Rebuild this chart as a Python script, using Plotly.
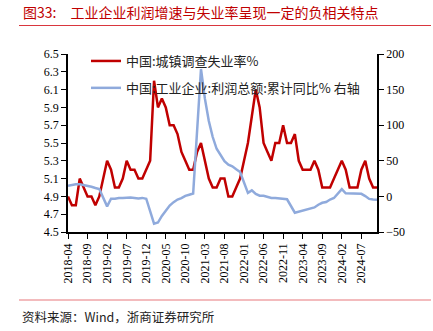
import plotly.graph_objects as go

# ---- data ----
months = []
y, m = 2018, 4
while (y, m) <= (2024, 11):
    months.append(f"{y}-{m:02d}")
    m += 1
    if m > 12:
        y, m = y + 1, 1

unemployment = [
    4.9, 4.8, 4.8, 5.1, 5.0, 4.9, 4.9, 4.8, 4.9,
    5.1, 5.3, 5.2, 5.0, 5.0, 5.1, 5.3, 5.2, 5.2, 5.1, 5.1, 5.2,
    5.3, 6.2, 5.9, 6.0, 5.9, 5.7, 5.7, 5.6, 5.4, 5.3, 5.2, 5.2,
    5.4, 5.5, 5.3, 5.1, 5.0, 5.0, 5.1, 5.1, 4.9, 4.9, 5.0, 5.1,
    5.3, 5.5, 5.8, 6.1, 5.9, 5.5, 5.4, 5.3, 5.5, 5.5, 5.7, 5.5,
    5.5, 5.6, 5.3, 5.2, 5.2, 5.2, 5.3, 5.2, 5.0, 5.0, 5.0, 5.1,
    5.2, 5.3, 5.2, 5.0, 5.0, 5.0, 5.2, 5.3, 5.1, 5.0, 5.0,
]

profit_yoy = [
    15.0, 16.5, 17.2, 17.1, 16.2, 14.7, 13.6, 11.8, 10.3,
    None, -14.0, -3.3, -3.4, -2.3, -2.4, -1.7, -1.7, -2.1, -2.9, -2.1, -3.3,
    None, -38.3, -36.7, -27.4, -19.3, -12.8, -8.1, -4.4, -2.4, 0.7, 2.4, 4.1,
    None, 178.9, 137.3, 106.0, 83.4, 66.9, 57.3, 49.5, 44.7, 42.2, 38.0, 34.3,
    None, 5.0, 8.5, 3.5, 1.0, 1.0, -1.1, -2.1, -2.3, -3.0, -3.6, -4.0,
    None, -22.9, -21.4, -20.6, -18.8, -16.8, -15.5, -11.7, -9.0, -7.8, -4.4, -2.3,
    None, 10.2, 4.3, 4.3, 3.4, 3.5, 3.6, 0.5, -3.5, -4.3, -4.7,
]

tick_labels = months[::5]
left_ticks = [4.5, 4.7, 4.9, 5.1, 5.3, 5.5, 5.7, 5.9, 6.1, 6.3, 6.5]
right_ticks = [-50, 0, 50, 100, 150, 200]

name_unemp = "中国:城镇调查失业率%"
name_profit = "中国:工业企业:利润总额:累计同比% 右轴"
title_text = "图33:　工业企业利润增速与失业率呈现一定的负相关特点"
source_text = "资料来源：Wind，浙商证券研究所"

# ---- layout geometry (px) ----
W, H = 433, 331
L, R, T, B = 68, 377, 54, 232

def px_x(p):
    return (p - L) / (R - L)

def px_y(p):
    return (B - p) / (B - T)

serif = "Liberation Serif, Times New Roman, serif"
cjk = "Noto Sans CJK SC, sans-serif"

fig = go.Figure()
fig.add_trace(go.Scatter(
    x=months, y=unemployment, name=name_unemp, mode="lines",
    line=dict(color="#C00000", width=2.5), legendgroup="a",
))
fig.add_trace(go.Scatter(
    x=months, y=profit_yoy, name=name_profit, mode="lines", yaxis="y2",
    line=dict(color="#8FAADC", width=2.5), connectgaps=True, legendgroup="b",
))

fig.update_layout(
    width=W, height=H,
    margin=dict(l=L, r=W - R, t=T, b=H - B, pad=0),
    paper_bgcolor="white", plot_bgcolor="white",
    showlegend=True,
    legend=dict(
        x=px_x(86), y=px_y(46), xanchor="left", yanchor="top",
        bgcolor="rgba(0,0,0,0)", font=dict(family=cjk, size=13, color="#222"),
        tracegroupgap=7, itemwidth=30,
    ),
    xaxis=dict(
        type="category", range=[0, len(months) - 1],
        tickmode="array", tickvals=tick_labels, ticktext=tick_labels,
        tickangle=-90, ticks="outside", ticklen=5, tickcolor="black",
        showline=True, linecolor="black", linewidth=1.5,
        showgrid=False, zeroline=False,
        tickfont=dict(family=serif, size=12, color="black"),
    ),
    yaxis=dict(
        range=[4.5, 6.5], tickmode="array", tickvals=left_ticks,
        tickformat=".1f", ticks="outside", ticklen=5, tickcolor="black",
        showline=True, linecolor="black", linewidth=1.5,
        showgrid=False, zeroline=False,
        tickfont=dict(family=serif, size=12, color="black"),
    ),
    yaxis2=dict(
        range=[-50, 200], tickmode="array", tickvals=right_ticks,
        overlaying="y", side="right", ticks="outside", ticklen=5, tickcolor="black",
        showline=True, linecolor="black", linewidth=1.5,
        showgrid=False, zeroline=False,
        tickfont=dict(family=serif, size=12, color="black"),
    ),
    shapes=[
        dict(type="line", xref="paper", yref="paper",
             x0=px_x(19), x1=px_x(431), y0=px_y(25.5), y1=px_y(25.5),
             line=dict(color="#D9363E", width=1.2)),
        dict(type="line", xref="paper", yref="paper",
             x0=px_x(19), x1=px_x(431), y0=px_y(300), y1=px_y(300),
             line=dict(color="#E8787C", width=1.2)),
    ],
    annotations=[
        dict(text=title_text, xref="paper", yref="paper",
             x=px_x(21), y=px_y(12.5), xanchor="left", yanchor="middle",
             showarrow=False, font=dict(family=cjk, size=14, color="#C00000")),
        dict(text=source_text, xref="paper", yref="paper",
             x=px_x(20), y=px_y(316), xanchor="left", yanchor="middle",
             showarrow=False, font=dict(family=cjk, size=12.5, color="#222")),
    ],
)

fig.write_html("out.html")
